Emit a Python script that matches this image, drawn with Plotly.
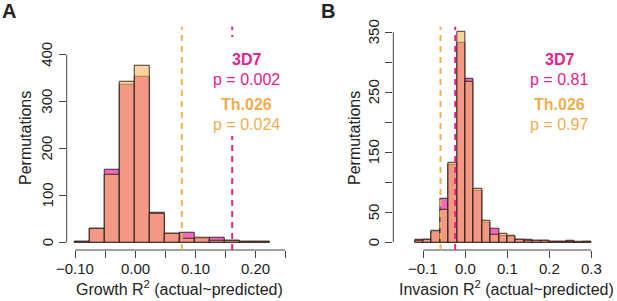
import plotly.graph_objects as go

# ---------------- data ----------------
# Panel A: Growth R^2 permutation histograms (bin width 0.025)
growth_bin_start = [-0.100, -0.075, -0.050, -0.025, 0.000, 0.025, 0.050, 0.075,
                    0.100, 0.125, 0.150, 0.175, 0.200]
growth_bin_width = 0.025
growth_3d7 = [2, 28, 155, 337, 353, 63, 19, 20, 7, 9, 3, 1, 2]
growth_th026 = [2, 28, 145, 342, 377, 62, 19, 7, 10, 3, 3, 1, 2]
growth_obs_3d7 = 0.162
growth_obs_th026 = 0.078
growth_xticks = [-0.10, -0.05, 0.00, 0.05, 0.10, 0.15, 0.20, 0.25]
growth_xticklabels = ["\u22120.10", "", "0.00", "", "0.10", "", "0.20", ""]
growth_yticks = [0, 100, 200, 300, 400]
growth_yticklabels = ["0", "100", "200", "300", "400"]

# Panel B: Invasion R^2 permutation histograms (bin width 0.02)
inv_bin_start = [-0.12, -0.10, -0.08, -0.06, -0.04, -0.02, 0.00, 0.02, 0.04, 0.06,
                 0.08, 0.10, 0.12, 0.14, 0.16, 0.18, 0.20, 0.22, 0.24, 0.26, 0.28]
inv_bin_width = 0.02
inv_3d7 = [4, 5, 17, 73, 129, 333, 273, 86, 32, 22, 11, 10, 5, 5, 2, 3, 1, 1, 2, 0, 1]
inv_th026 = [2, 5, 19, 55, 133, 351, 267, 90, 36, 13, 15, 11, 5, 3, 2, 3, 1, 1, 1, 1, 1]
inv_obs_3d7 = -0.024
inv_obs_th026 = -0.059
inv_xticks = [-0.1, 0.0, 0.1, 0.2, 0.3]
inv_xticklabels = ["\u22120.1", "0.0", "0.1", "0.2", "0.3"]
inv_yticks = [0, 50, 100, 150, 200, 250, 300, 350]
inv_yticklabels = ["0", "50", "", "150", "", "250", "", "350"]

pvals = {"A": ("0.002", "0.024"), "B": ("0.81", "0.97")}

# ---------------- style ----------------
W, H = 617, 301
FONT = "Liberation Sans, Arial, sans-serif"
PINK_FILL = "rgba(227,7,150,0.6)"
ORANGE_FILL = "rgba(247,183,92,0.6)"
PINK_LINE = "#e6228c"
ORANGE_LINE = "#f0b055"
TEXT_PINK = "#e6228c"
TEXT_ORANGE = "#f0ad4e"
EDGE = "#2e1e1e"
AXIS = "#444444"

def px_x(p):
    return p / W

def px_y(p):
    return 1 - p / H

# plot regions in pixels
A_dom_x = [px_x(66.7), px_x(293.4)]
B_dom_x = [px_x(393.3), px_x(598.0)]
dom_y = [px_y(250.0), px_y(26.7)]

fig = go.Figure()

def centers(starts, w):
    return [s + w / 2 for s in starts]

def add_hist(starts, w, vals, fill, xa, ya, name):
    fig.add_trace(go.Bar(
        x=centers(starts, w), y=vals, width=[w] * len(vals),
        marker=dict(color=fill, line=dict(color=EDGE, width=0.9)),
        xaxis=xa, yaxis=ya, name=name, showlegend=False,
    ))

add_hist(growth_bin_start, growth_bin_width, growth_3d7, PINK_FILL, "x", "y", "3D7")
add_hist(growth_bin_start, growth_bin_width, growth_th026, ORANGE_FILL, "x", "y", "Th.026")
add_hist(inv_bin_start, inv_bin_width, inv_3d7, PINK_FILL, "x2", "y2", "3D7")
add_hist(inv_bin_start, inv_bin_width, inv_th026, ORANGE_FILL, "x2", "y2", "Th.026")

def axis(dom, rng, tv, anchor):
    return dict(domain=dom, range=rng, tickvals=tv, ticks="outside", anchor=anchor,
                ticklen=7, tickcolor=AXIS, tickwidth=1, showline=False,
                showgrid=False, zeroline=False, showticklabels=False, automargin=False)

fig.update_layout(
    width=W, height=H, margin=dict(l=0, r=0, t=0, b=0),
    paper_bgcolor="white", plot_bgcolor="white", barmode="overlay", bargap=0,
    font=dict(family=FONT, size=15, color="#222"),
    xaxis=axis(A_dom_x, [-0.1139, 0.264], growth_xticks, "y"),
    yaxis=axis(dom_y, [-16.4, 460], growth_yticks, "x"),
    xaxis2=axis(B_dom_x, [-0.1714, 0.3159], inv_xticks, "y2"),
    yaxis2=axis(dom_y, [-12.8, 359.3], inv_yticks, "x2"),
)

shapes = []
# R-style axis lines spanning first to last tick
shapes.append(dict(type="line", xref="x", yref="paper", x0=growth_xticks[0], x1=growth_xticks[-1],
                   y0=dom_y[0], y1=dom_y[0], line=dict(color=AXIS, width=1)))
shapes.append(dict(type="line", xref="paper", yref="y", x0=A_dom_x[0], x1=A_dom_x[0],
                   y0=growth_yticks[0], y1=growth_yticks[-1], line=dict(color=AXIS, width=1)))
shapes.append(dict(type="line", xref="x2", yref="paper", x0=inv_xticks[0], x1=inv_xticks[-1],
                   y0=dom_y[0], y1=dom_y[0], line=dict(color=AXIS, width=1)))
shapes.append(dict(type="line", xref="paper", yref="y2", x0=B_dom_x[0], x1=B_dom_x[0],
                   y0=inv_yticks[0], y1=inv_yticks[-1], line=dict(color=AXIS, width=1)))
# observed values (dashed)
for xr, xv, col in [("x", growth_obs_th026, ORANGE_LINE), ("x", growth_obs_3d7, PINK_LINE),
                    ("x2", inv_obs_th026, ORANGE_LINE), ("x2", inv_obs_3d7, PINK_LINE)]:
    shapes.append(dict(type="line", xref=xr, yref="paper", x0=xv, x1=xv,
                       y0=dom_y[0], y1=dom_y[1],
                       line=dict(color=col, width=2, dash="6px,5px")))
# white legend box behind the p-value text (panel A)
shapes.append(dict(type="rect", xref="paper", yref="paper",
                   x0=px_x(206), x1=px_x(287), y0=px_y(136), y1=px_y(37),
                   fillcolor="white", line=dict(width=0), layer="above"))
fig.update_layout(shapes=shapes)

ann = []
def text(x, y, s, size=16, color="#222", bold=False, angle=0, xref="paper", yref="paper"):
    if bold:
        s = "<b>" + s + "</b>"
    ann.append(dict(x=px_x(x) if xref == "paper" else x,
                    y=px_y(y) if yref == "paper" else y,
                    xref=xref, yref=yref, text=s,
                    showarrow=False, xanchor="center", yanchor="middle",
                    font=dict(family=FONT, size=size, color=color), textangle=angle))

# tick labels
for v, t in zip(growth_xticks, growth_xticklabels):
    if t:
        text(v, 268, t, size=15, xref="x")
for v, t in zip(inv_xticks, inv_xticklabels):
    if t:
        text(v, 268, t, size=15, xref="x2")
for v, t in zip(growth_yticks, growth_yticklabels):
    if t:
        text(47, v, t, size=15, angle=-90, yref="y")
for v, t in zip(inv_yticks, inv_yticklabels):
    if t:
        text(373, v, t, size=15, angle=-90, yref="y2")

# panel letters
text(9, 11, "A", size=20, bold=True)
text(328, 11, "B", size=20, bold=True)
# axis titles
text(180, 288, "Growth R<sup>2</sup> (actual~predicted)", size=16)
text(506, 288, "Invasion R<sup>2</sup> (actual~predicted)", size=16)
text(25, 138, "Permutations", size=16, angle=-90)
text(354, 138, "Permutations", size=16, angle=-90)
# p-value labels
for cx, key in [(246, "A"), (559, "B")]:
    p3, pt = pvals[key]
    text(cx, 60, "3D7", size=16, color=TEXT_PINK, bold=True)
    text(cx, 80, "p = " + p3, size=16, color=TEXT_PINK)
    text(cx, 105, "Th.026", size=16, color=TEXT_ORANGE, bold=True)
    text(cx, 124, "p = " + pt, size=16, color=TEXT_ORANGE)
fig.update_layout(annotations=ann)

fig.write_html("out.html", config={"displayModeBar": False},
               post_script="document.body.style.margin='0';document.body.style.overflow='hidden';")
